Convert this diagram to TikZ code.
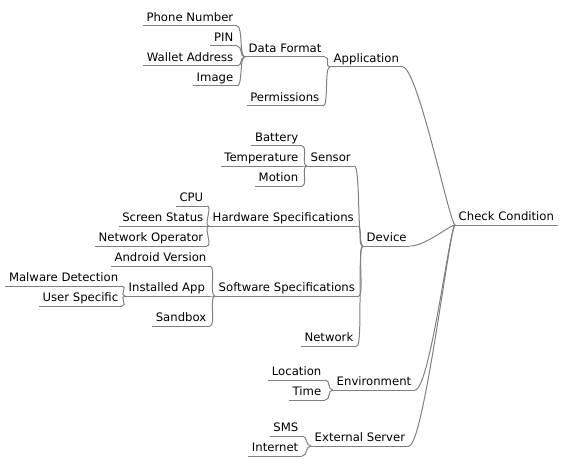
\documentclass[tikz,border=0pt]{standalone}
\usepackage{fontspec}
\setmainfont{DejaVu Sans}
\definecolor{linegray}{RGB}{128,128,128}
\newcommand\mmlink[2]{\draw[conn] (#1.south east) .. controls +(6,0) and +(-6,0) .. (#2.south west);}
\newcommand\mmmain[2]{\draw[conn] (#1.south east) .. controls +(15,0) and +(-5,0) .. (#2.south west);}
\begin{document}
\begin{tikzpicture}[x=0.75pt,y=-0.75pt,
  ul/.style={draw=linegray, line width=0.75pt},
  conn/.style={draw=linegray, line width=0.75pt},
  mm/.style={inner xsep=2.6pt, inner ysep=3.4pt, text depth=0pt,
    font=\fontsize{8.75pt}{10pt}\selectfont,
    append after command={(\tikzlastnode.south west) edge[ul] (\tikzlastnode.south east)}},
  lf/.style={mm, anchor=south east},
  pr/.style={mm, anchor=south west}]
\useasboundingbox (0,0) rectangle (561,467);
% root
\node[pr] (cc) at (455,225) {Check Condition};
% Application
\node[pr] (app) at (330,67) {Application};
\node[pr] (df) at (245,57) {Data Format};
\node[lf] (perm) at (323,106) {Permissions};
\node[lf] (pn) at (237,26) {Phone Number};
\node[lf] (pin) at (237,46) {PIN};
\node[lf] (wa) at (237,66) {Wallet Address};
\node[lf] (img) at (237,86) {Image};
% Device
\node[pr] (dev) at (363,246) {Device};
\node[pr] (sen) at (307,166) {Sensor};
\node[lf] (bat) at (302,146) {Battery};
\node[lf] (tmp) at (302,166) {Temperature};
\node[lf] (mot) at (302,186) {Motion};
\node[pr] (hw) at (209,226) {Hardware Specifications};
\node[lf] (cpu) at (207,206) {CPU};
\node[lf] (scr) at (207,226) {Screen Status};
\node[lf] (nop) at (207,246) {Network Operator};
\node[pr] (sw) at (215,296) {Software Specifications};
\node[lf] (av) at (210,266) {Android Version};
\node[pr] (ia) at (125,296) {Installed App};
\node[lf] (sb) at (210,326) {Sandbox};
\node[lf] (md) at (122,286) {Malware Detection};
\node[lf] (us) at (122,306) {User Specific};
\node[lf] (net) at (357,346) {Network};
% Environment
\node[pr] (env) at (333,390) {Environment};
\node[lf] (loc) at (325,380) {Location};
\node[lf] (time) at (325,400) {Time};
% External Server
\node[pr] (es) at (311,446) {External Server};
\node[lf] (sms) at (302,436) {SMS};
\node[lf] (inet) at (302,456) {Internet};
% connectors
\mmmain{app}{cc}
\mmmain{dev}{cc}
\mmmain{env}{cc}
\mmmain{es}{cc}
\mmlink{df}{app}
\mmlink{perm}{app}
\mmlink{pn}{df}
\mmlink{pin}{df}
\mmlink{wa}{df}
\mmlink{img}{df}
\mmlink{sen}{dev}
\mmlink{hw}{dev}
\mmlink{sw}{dev}
\mmlink{net}{dev}
\mmlink{bat}{sen}
\mmlink{tmp}{sen}
\mmlink{mot}{sen}
\mmlink{cpu}{hw}
\mmlink{scr}{hw}
\mmlink{nop}{hw}
\mmlink{av}{sw}
\mmlink{ia}{sw}
\mmlink{sb}{sw}
\mmlink{md}{ia}
\mmlink{us}{ia}
\mmlink{loc}{env}
\mmlink{time}{env}
\mmlink{sms}{es}
\mmlink{inet}{es}
\end{tikzpicture}
\end{document}
